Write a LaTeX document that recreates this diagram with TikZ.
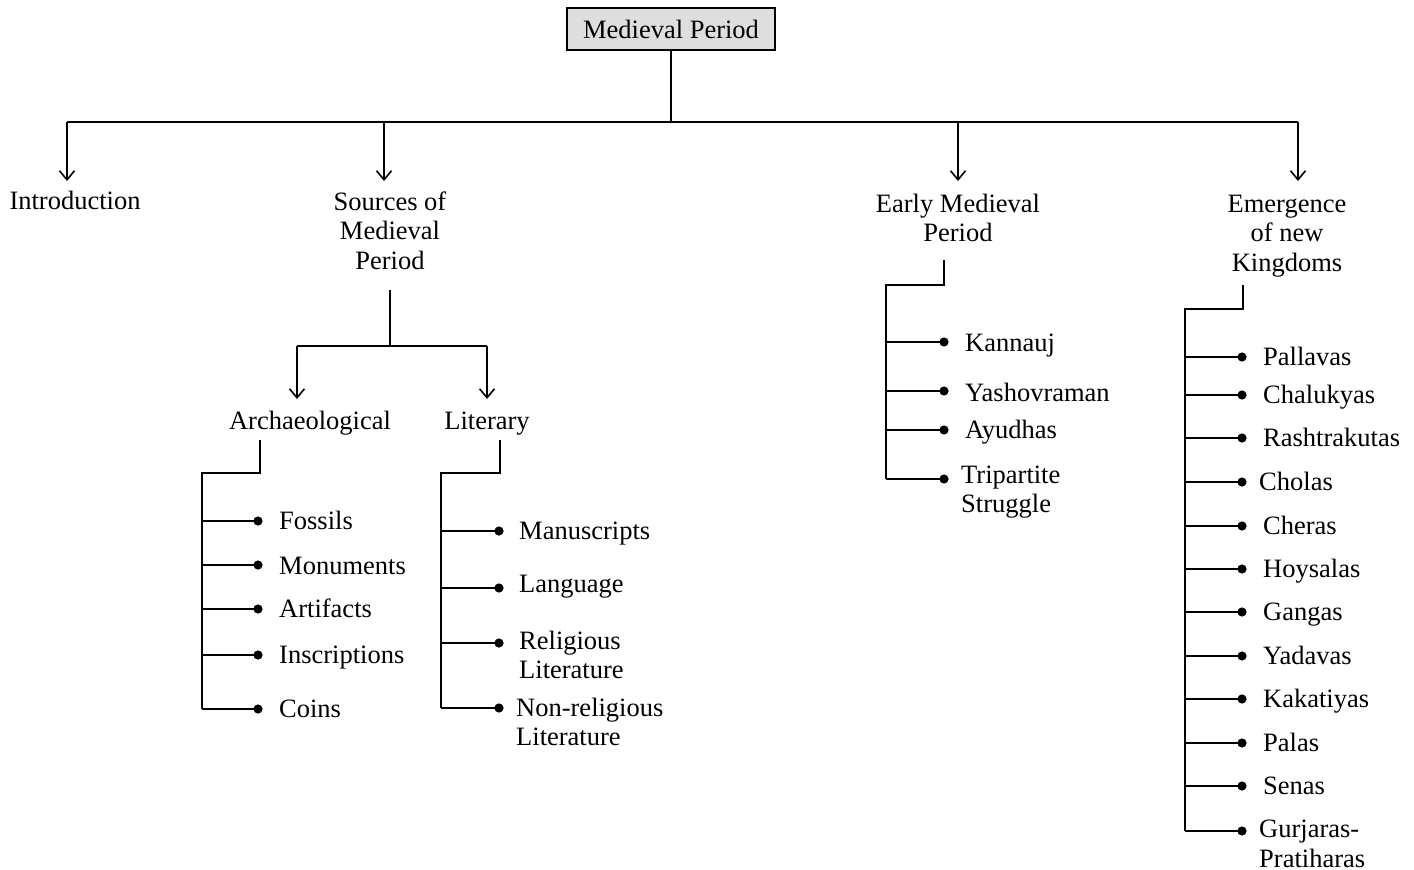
\documentclass[tikz,border=0pt]{standalone}
\usepackage{fontspec}
\setmainfont{Liberation Serif}
\usetikzlibrary{arrows.meta}
\begin{document}
\begin{tikzpicture}[x=1pt,y=-1pt,
  wire/.style={line width=1.6pt, black},
  arr/.style={wire, -{Straight Barb[length=9pt,width=15pt,line width=1.6pt]}},
  lbl/.style={font=\fontsize{26.5}{29.5}\selectfont, inner sep=0pt, align=left},
  clbl/.style={lbl, align=center},
  bullet/.style={fill=black},
]
\useasboundingbox (0,0) rectangle (1414,870);

% root
\node[draw, line width=1.6pt, fill=black!13, minimum width=208pt, minimum height=42pt,
      inner sep=0pt, font=\fontsize{26.5}{29.5}\selectfont] (root) at (671,29) {Medieval Period};
\coordinate (rootbus) at (671,122);
\draw[wire] (root.south) -- (rootbus);
\draw[wire] (67,122) -- (1298,122);

% first level (base anchor = baseline of the last line)
\node[lbl, anchor=base] (intro) at (75,209) {Introduction};
\node[clbl, anchor=base] (src) at (390,269) {Sources of\\Medieval\\Period};
\node[clbl, anchor=base] (early) at (958,241.5) {Early Medieval\\Period};
\node[clbl, anchor=base] (emerg) at (1287,271) {Emergence\\of new\\Kingdoms};
\foreach \x in {67,384,958,1298}
  \draw[arr] (\x,122) -- (\x,181);

% sources split
\coordinate (srcbus) at (390,346);
\draw[wire] (390,290) -- (srcbus);
\draw[wire] (297,346) -- (487,346);
\draw[arr] (297,346) -- (297,399);
\draw[arr] (487,346) -- (487,399);
\node[lbl, anchor=base] (arch) at (310,429) {Archaeological};
\node[lbl, anchor=base] (lit) at (487,429) {Literary};

% archaeological sources
\draw[wire] (260,440) -- (260,473) -- (202,473) -- (202,709);
\foreach \y/\ty/\t [count=\i] in {521/529/Fossils, 565/574/Monuments, 609/617/Artifacts,
                                  655/663/Inscriptions, 709/717/Coins} {
  \node[lbl, anchor=base west] (arc\i) at (279,\ty) {\t};
  \coordinate (arcdot\i) at (258,\y);
  \draw[wire] (202,\y) -- (arcdot\i);
  \fill[bullet] (arcdot\i) circle (4.6pt);
}

% literary sources
\draw[wire] (500,440) -- (500,473) -- (441,473) -- (441,708);
\foreach \y/\ty/\tx/\t [count=\i] in {531/539/519/Manuscripts, 588/592/519/Language,
                                      643/678.5/519/{Religious\\Literature},
                                      708/745.5/516/{Non-religious\\Literature}} {
  \node[lbl, anchor=base west] (lit\i) at (\tx,\ty) {\t};
  \coordinate (litdot\i) at (499,\y);
  \draw[wire] (441,\y) -- (litdot\i);
  \fill[bullet] (litdot\i) circle (4.6pt);
}

% early medieval period
\draw[wire] (944,260) -- (944,285) -- (886,285) -- (886,479);
\foreach \y/\ty/\tx/\t [count=\i] in {342/351/965/Kannauj, 391/401/965/Yashovraman,
                                      430/438/965/Ayudhas, 479/512.5/961/{Tripartite\\Struggle}} {
  \node[lbl, anchor=base west] (ear\i) at (\tx,\ty) {\t};
  \coordinate (eardot\i) at (944,\y);
  \draw[wire] (886,\y) -- (eardot\i);
  \fill[bullet] (eardot\i) circle (4.6pt);
}

% new kingdoms
\draw[wire] (1243,285) -- (1243,309) -- (1185,309) -- (1185,831);
\foreach \y/\ty/\tx/\t [count=\i] in {357/365/1263/Pallavas, 395/403/1263/Chalukyas,
                                  438/446/1263/Rashtrakutas, 482/490/1259/Cholas,
                                  526/534/1263/Cheras, 569/577/1263/Hoysalas,
                                  612/620/1263/Gangas, 656/664/1263/Yadavas,
                                  699/707/1263/Kakatiyas, 743/751/1263/Palas,
                                  786/794/1263/Senas,
                                  831/867/1259/{Gurjaras-\\Pratiharas}} {
  \node[lbl, anchor=base west] (kin\i) at (\tx,\ty) {\t};
  \coordinate (kindot\i) at (1242,\y);
  \draw[wire] (1185,\y) -- (kindot\i);
  \fill[bullet] (kindot\i) circle (4.6pt);
}
\end{tikzpicture}
\end{document}
